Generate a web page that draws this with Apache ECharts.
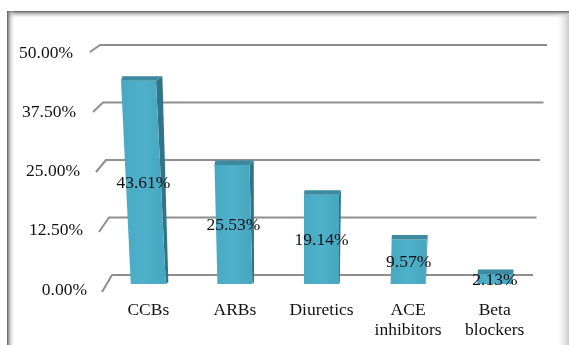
<!DOCTYPE html>
<html>
<head>
<meta charset="utf-8">
<script src="https://cdn.jsdelivr.net/npm/echarts@6/dist/echarts.min.js"></script>
<style>
  html, body { margin: 0; padding: 0; background: #ffffff; }
  #chart { width: 569px; height: 345px; }
</style>
</head>
<body>
<div id="chart"></div>
<script>
// Share of patients per antihypertensive drug class (%)
const categories = ['CCBs', 'ARBs', 'Diuretics', 'ACE\ninhibitors', 'Beta\nblockers'];
const shares = [43.61, 25.53, 19.14, 9.57, 2.13];
const tickValues = [0, 12.5, 25, 37.5, 50];

const FONT = '"Liberation Serif", "Times New Roman", serif';
const TEXT_COLOR = '#111111';

// Y labels drift right toward the floor (perspective of the wall)
const labelPadRight = [0, 4, 7, 11, 14];
const yRich = {};
labelPadRight.forEach((p, i) => {
  yRich['t' + i] = {
    fontFamily: FONT, fontSize: 17.5, color: TEXT_COLOR,
    padding: [0, p, 0, 0]
  };
});

const chart = echarts.init(document.getElementById('chart'), null, { renderer: 'canvas' });

// Back wall gridlines with the short slanted floor connector on the left
function renderWall(params, api) {
  const v = api.value(0);
  const k = (50 - v);
  const pL = api.coord([0, v]);
  const pR = api.coord([100, v]);
  const xL = pL[0] + 0.24 * k;
  const xR = pR[0] - 0.28 * k;
  const y = pL[1];
  const foot = [xL - 10, y + 7 + 0.2 * k];
  return {
    type: 'polyline',
    shape: { points: [foot, [xL, y], [xR, y]] },
    style: { stroke: '#8e8e8e', lineWidth: 2, fill: null, lineJoin: 'round' },
    silent: true
  };
}

// Columns with a lit top face and a shaded side face
function renderBar(params, api) {
  const i = api.value(0);
  const v = api.value(1);
  const base = api.coord([i, 0]);
  const top = api.coord([i, v]);
  const w = 35;
  const h = base[1] - top[1];
  const lean = (base[0] - 322) * 0.000277 * h;
  const sd = Math.max(1, (322 - base[0]) * 0.025 + 2);
  const BL = [base[0] - w / 2, base[1]];
  const BR = [base[0] + w / 2, base[1]];
  const TR = [base[0] + w / 2 + lean, top[1]];
  const TL = [base[0] - w / 2 + lean, top[1]];
  const depth = 4.5;
  return {
    type: 'group',
    children: [
      {
        type: 'polygon',
        shape: { points: [TR, [TR[0] + sd, TR[1] - depth], [BR[0] + sd * 0.4, BR[1] - 2], BR] },
        style: { fill: '#2f7587' }
      },
      {
        type: 'polygon',
        shape: { points: [TL, BL, BR, TR] },
        style: {
          fill: new echarts.graphic.LinearGradient(0, 0, 1, 0, [
            { offset: 0, color: '#49a9c3' },
            { offset: 0.5, color: '#4eb0ca' },
            { offset: 1, color: '#47a6c0' }
          ])
        }
      },
      {
        type: 'polygon',
        shape: { points: [TL, TR, [TR[0] + sd, TR[1] - depth], [TL[0] + sd * 0.2, TL[1] - depth]] },
        style: { fill: '#3b8a9f' }
      },
      {
        type: 'text',
        style: {
          x: base[0] + lean / 2,
          y: (base[1] + top[1]) / 2 + 1,
          text: v.toFixed(2) + '%',
          fontFamily: FONT, fontSize: 17.5, fill: TEXT_COLOR,
          align: 'center', verticalAlign: 'middle'
        }
      }
    ]
  };
}

chart.setOption({
  animation: false,
  backgroundColor: '#ffffff',
  grid: [
    { left: 100, right: 22, top: 45, bottom: 70 },   // back wall
    { left: 105, right: 31, top: 51, bottom: 61 },   // columns (front plane)
    { left: 90, right: 31, top: 53, bottom: 55 }     // value labels
  ],
  xAxis: [
    { gridIndex: 0, type: 'value', min: 0, max: 100, show: false },
    {
      gridIndex: 1, type: 'category', data: categories,
      axisLine: { show: false }, axisTick: { show: false },
      axisLabel: {
        margin: 16, interval: 0,
        fontFamily: FONT, fontSize: 17.5, color: TEXT_COLOR, lineHeight: 20
      }
    },
    { gridIndex: 2, type: 'value', min: 0, max: 1, show: false }
  ],
  yAxis: [
    { gridIndex: 0, type: 'value', min: 0, max: 50, interval: 12.5, show: false },
    { gridIndex: 1, type: 'value', min: 0, max: 50, interval: 12.5, show: false },
    {
      gridIndex: 2, type: 'value', min: 0, max: 50, interval: 12.5,
      axisLine: { show: false }, axisTick: { show: false }, splitLine: { show: false },
      axisLabel: {
        margin: 3,
        formatter: (value, index) => '{t' + index + '|' + value.toFixed(2) + '%}',
        rich: yRich
      }
    }
  ],
  graphic: [
    // chart frame with soft inner shadow
    {
      type: 'rect', left: 7, top: 11, z: 100, silent: true,
      shape: { width: 562, height: 8 },
      style: {
        fill: new echarts.graphic.LinearGradient(0, 0, 0, 1, [
          { offset: 0, color: 'rgba(90,90,90,1)' },
          { offset: 0.3, color: 'rgba(150,150,150,0.7)' },
          { offset: 1, color: 'rgba(255,255,255,0)' }
        ])
      }
    },
    {
      type: 'rect', left: 7, top: 11, z: 100, silent: true,
      shape: { width: 8, height: 334 },
      style: {
        fill: new echarts.graphic.LinearGradient(0, 0, 1, 0, [
          { offset: 0, color: 'rgba(90,90,90,1)' },
          { offset: 0.3, color: 'rgba(150,150,150,0.7)' },
          { offset: 1, color: 'rgba(255,255,255,0)' }
        ])
      }
    },
    {
      type: 'rect', left: 555, top: 14, z: 100, silent: true,
      shape: { width: 14, height: 331 },
      style: {
        fill: new echarts.graphic.LinearGradient(0, 0, 1, 0, [
          { offset: 0, color: 'rgba(255,255,255,0)' },
          { offset: 1, color: 'rgba(200,200,200,1)' }
        ])
      }
    }
  ],
  series: [
    {
      type: 'custom', name: 'wall',
      xAxisIndex: 0, yAxisIndex: 0,
      data: tickValues.map(v => [v]),
      renderItem: renderWall, z: 1, silent: true
    },
    {
      type: 'custom', name: 'share',
      xAxisIndex: 1, yAxisIndex: 1,
      data: shares.map((v, i) => [i, v]),
      renderItem: renderBar, z: 5
    }
  ]
});
</script>
</body>
</html>
